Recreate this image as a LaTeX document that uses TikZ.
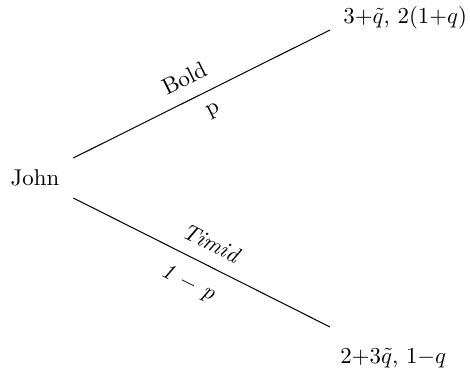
\documentclass[tikz,border=0pt]{standalone}
\usetikzlibrary{positioning,calc}

\begin{document}
\begin{tikzpicture}[x=0.01539cm,y=-0.01539cm]
\tikzset{branch/.style={line width=0.45pt},
 payoff/.style={anchor=west,inner sep=0pt}}
\useasboundingbox (0,0) rectangle (470,375);

\node (john) at (35,178) {John};
\node[payoff] (boldend) at (343,18) {$3{+}\tilde{q}$, $2(1{+}q)$};
\node[payoff] (timidend) at (340,358) {$2{+}3\tilde{q}$, $1{-}q$};

% ends of the branches
\coordinate (jb) at ($(john.east)+(6,-20)$);
\coordinate (jt) at ($(john.east)+(6,20)$);
\coordinate (eb) at ($(boldend.west)+(-13,12)$);
\coordinate (et) at ($(timidend.west)+(-10,-31)$);

\draw[branch] (jb) -- (eb)
 node[pos=0.47,above=2.5pt,sloped] {Bold}
 node[pos=0.51,below=2.5pt,sloped] {p};
\draw[branch] (jt) -- (et)
 node[pos=0.5,above=2.5pt,sloped] {\textit{Timid}}
 node[pos=0.49,below=3pt,sloped] {\textit{1 $-$ p}};
\end{tikzpicture}
\end{document}
